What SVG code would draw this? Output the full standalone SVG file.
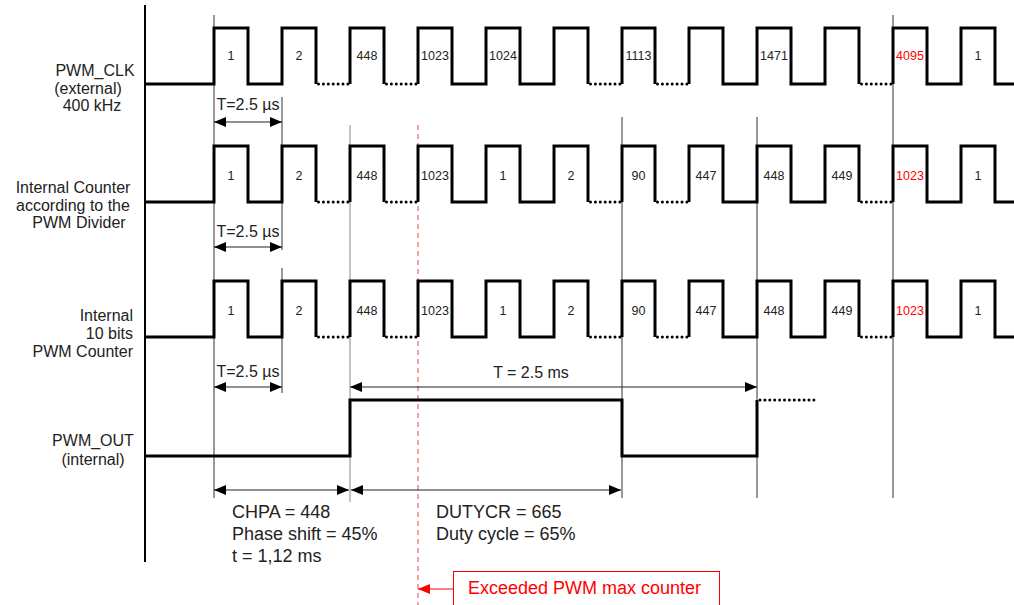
<svg xmlns="http://www.w3.org/2000/svg" width="1014" height="605" viewBox="0 0 1014 605">
<style>
text{font-family:"Liberation Sans",Arial,sans-serif;fill:#222}
.w{fill:none;stroke:#000;stroke-width:3}
.d{fill:none;stroke:#000;stroke-width:3;stroke-linecap:round;stroke-dasharray:0 4.9}
.thin{stroke:#333;stroke-width:1}
.gray{stroke:#888;stroke-width:1}
.lab{font-size:12.5px;text-anchor:middle}
.red{fill:#ff0000}
.side{font-size:16px;text-anchor:middle}
.big{font-size:18px}
.arr{stroke:#222;stroke-width:1;marker-start:url(#ah);marker-end:url(#ah)}
</style>
<defs>
<marker id="ah" viewBox="0 0 12 10" refX="12" refY="5" markerWidth="12" markerHeight="10" orient="auto-start-reverse" markerUnits="userSpaceOnUse"><path d="M0,0 L12,5 L0,10 z" fill="#000"/></marker>
<marker id="ahr" viewBox="0 0 12 10" refX="12" refY="5" markerWidth="12" markerHeight="10" orient="auto" markerUnits="userSpaceOnUse"><path d="M0,0 L12,5 L0,10 z" fill="#ff0000"/></marker>
<g id="wave">
<path class="w" d="M145,0 H214 V-56 H248 V0 H282 V-56 H316 V0"/>
<path class="w" d="M350,0 V-56 H384 V0"/>
<path class="w" d="M418,0 V-56 H452 V0 H486 V-56 H520 V0 H554 V-56 H588 V0"/>
<path class="w" d="M622,0 V-56 H655 V0"/>
<path class="w" d="M689,0 V-56 H723 V0 H757 V-56 H791 V0 H825 V-56 H859 V0"/>
<path class="w" d="M893,0 V-56 H927 V0 H961 V-56 H995 V0 H1014"/>
<path class="d" d="M318.5,0 H348 M386.5,0 H416 M590.5,0 H620 M657.5,0 H687 M861.5,0 H891"/>
</g>
</defs>

<g id="axis"><line x1="145" y1="5" x2="145" y2="562" stroke="#000" stroke-width="2"/></g>

<g id="connectors">
<line class="thin" x1="214" y1="15" x2="214" y2="498"/>
<line class="thin" x1="282" y1="97" x2="282" y2="250"/>
<line class="thin" x1="282" y1="268" x2="282" y2="393"/>
<line class="gray" x1="350" y1="125" x2="350" y2="502"/>
<line x1="418" y1="125" x2="418" y2="605" stroke="#e84848" stroke-width="1" stroke-dasharray="5,4"/>
<line class="thin" x1="622" y1="117" x2="622" y2="498"/>
<line class="thin" x1="757" y1="117" x2="757" y2="498"/>
<line class="thin" x1="893" y1="15" x2="893" y2="498"/>
<line class="arr" x1="214" y1="122" x2="282" y2="122"/>
<line class="arr" x1="214" y1="247" x2="282" y2="247"/>
<line class="arr" x1="214" y1="387" x2="282" y2="387"/>
<line class="arr" x1="350" y1="387" x2="757" y2="387"/>
<line class="arr" x1="214" y1="490" x2="349" y2="490"/>
<line class="arr" x1="351" y1="490" x2="621" y2="490"/>
<line x1="453" y1="589" x2="418" y2="589" stroke="#ff0000" stroke-width="1" marker-end="url(#ahr)"/>
</g>

<g id="pwm_clk">
<use href="#wave" transform="translate(0,84)"/>
<text class="side" x="95" y="76">PWM_CLK</text>
<text class="side" x="88" y="94">(external)</text>
<text class="side" x="92" y="111">400 kHz</text>
<g class="lab">
<text class="lab" x="231" y="59.5">1</text>
<text class="lab" x="299" y="59.5">2</text>
<text class="lab" x="367" y="59.5">448</text>
<text class="lab" x="435" y="59.5">1023</text>
<text class="lab" x="503" y="59.5">1024</text>
<text class="lab" x="638.5" y="59.5">1113</text>
<text class="lab" x="774" y="59.5">1471</text>
<text class="lab red" x="910" y="59.5">4095</text>
<text class="lab" x="978" y="59.5">1</text>
</g>
<text class="side" x="248" y="110">T=2.5 µs</text>
</g>

<g id="internal_counter">
<use href="#wave" transform="translate(0,202)"/>
<text class="side" x="73" y="193">Internal Counter</text>
<text class="side" x="73" y="211">according to the</text>
<text class="side" x="79" y="228">PWM Divider</text>
<text class="lab" x="231" y="179.5">1</text>
<text class="lab" x="299" y="179.5">2</text>
<text class="lab" x="367" y="179.5">448</text>
<text class="lab" x="435" y="179.5">1023</text>
<text class="lab" x="503" y="179.5">1</text>
<text class="lab" x="571" y="179.5">2</text>
<text class="lab" x="638.5" y="179.5">90</text>
<text class="lab" x="706" y="179.5">447</text>
<text class="lab" x="774" y="179.5">448</text>
<text class="lab" x="842" y="179.5">449</text>
<text class="lab red" x="910" y="179.5">1023</text>
<text class="lab" x="978" y="179.5">1</text>
<text class="side" x="248" y="237">T=2.5 µs</text>
</g>

<g id="pwm_counter">
<use href="#wave" transform="translate(0,337)"/>
<text class="side" x="133" y="321" text-anchor="end" style="text-anchor:end">Internal</text>
<text class="side" x="133" y="339" style="text-anchor:end">10 bits</text>
<text class="side" x="133" y="357" style="text-anchor:end">PWM Counter</text>
<text class="lab" x="231" y="314.5">1</text>
<text class="lab" x="299" y="314.5">2</text>
<text class="lab" x="367" y="314.5">448</text>
<text class="lab" x="435" y="314.5">1023</text>
<text class="lab" x="503" y="314.5">1</text>
<text class="lab" x="571" y="314.5">2</text>
<text class="lab" x="638.5" y="314.5">90</text>
<text class="lab" x="706" y="314.5">447</text>
<text class="lab" x="774" y="314.5">448</text>
<text class="lab" x="842" y="314.5">449</text>
<text class="lab red" x="910" y="314.5">1023</text>
<text class="lab" x="978" y="314.5">1</text>
<text class="side" x="248" y="377">T=2.5 µs</text>
<text class="side" x="531" y="378">T = 2.5 ms</text>
</g>

<g id="pwm_out">
<path class="w" d="M145,456 H350 V400 H622 V456 H757 V400"/>
<path class="d" d="M760,400 H818"/>
<text class="side" x="93" y="446">PWM_OUT</text>
<text class="side" x="93" y="465">(internal)</text>
<text class="big" x="232" y="518">CHPA = 448</text>
<text class="big" x="232" y="540">Phase shift = 45%</text>
<text class="big" x="232" y="562">t = 1,12 ms</text>
<text class="big" x="436" y="518">DUTYCR = 665</text>
<text class="big" x="436" y="540">Duty cycle = 65%</text>
</g>

<g id="exceeded">
<rect x="453.5" y="571.5" width="266" height="40" fill="none" stroke="#ff0000" stroke-width="1"/>
<text class="big red" x="468" y="594">Exceeded PWM max counter</text>
</g>
</svg>
